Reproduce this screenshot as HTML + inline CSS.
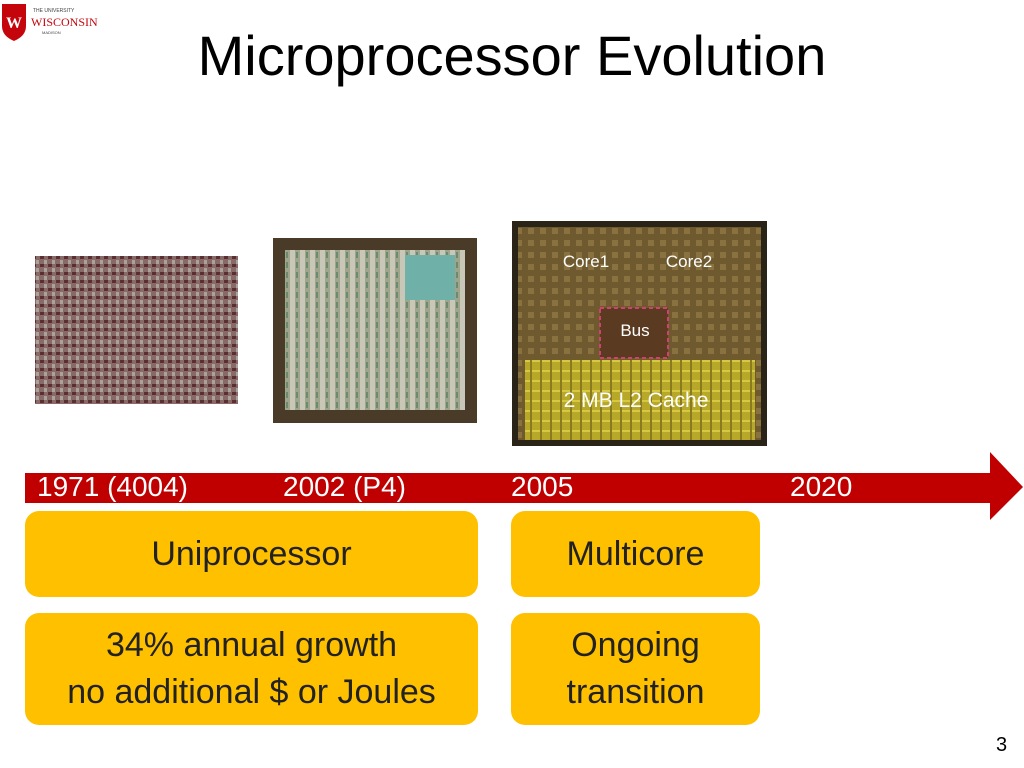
<!DOCTYPE html>
<html><head><meta charset="utf-8"><style>
body{margin:0;width:1024px;height:768px;background:#fff;position:relative;overflow:hidden;font-family:"Liberation Sans",sans-serif}
.a{position:absolute}
.box{position:absolute;background:#FFC000;border-radius:14px;color:#222;font-size:34px;text-align:center;display:flex;align-items:center;justify-content:center;line-height:47px}
.lbl{position:absolute;top:471px;color:#fff;font-size:28px;line-height:32px}
</style></head><body>
<svg class="a" style="left:0;top:0" width="110" height="44">
<path d="M2 4 H26 V26 Q26 36 14 41 Q2 36 2 26 Z" fill="#c5050c"/>
<text x="14" y="28" fill="#fff" font-size="16" font-family="Liberation Serif" text-anchor="middle" font-weight="bold">W</text>
<text x="33" y="12" font-size="5" fill="#444" font-family="Liberation Sans">THE UNIVERSITY</text>
<text x="31" y="26" font-size="12" fill="#c5050c" font-family="Liberation Serif">WISCONSIN</text>
<text x="42" y="34" font-size="4" fill="#444" font-family="Liberation Sans">MADISON</text>
</svg>
<div class="a" style="left:0;width:1024px;top:24px;text-align:center;font-size:56px;line-height:64px;color:#000">Microprocessor Evolution</div>

<svg class="a" style="left:0;top:0" width="1024" height="768">
<defs>
<pattern id="p1" width="8" height="8" patternUnits="userSpaceOnUse"><rect width="8" height="8" fill="#8a6a66"/><rect width="4" height="3" fill="#5a2f33"/><rect x="4" y="4" width="3" height="4" fill="#a9a3a0"/></pattern>
<pattern id="p2" width="10" height="10" patternUnits="userSpaceOnUse"><rect width="10" height="10" fill="#9fa58a"/><rect width="5" height="10" fill="#c9c8b8"/><rect x="6" y="2" width="2" height="6" fill="#6b8a6f"/></pattern>
<pattern id="p3" width="12" height="12" patternUnits="userSpaceOnUse"><rect width="12" height="12" fill="#6e5a2e"/><rect width="6" height="6" fill="#8a7240"/></pattern>
<pattern id="p4" width="10" height="10" patternUnits="userSpaceOnUse"><rect width="10" height="10" fill="#b8a82a"/><rect width="10" height="2" fill="#d6c840"/><rect width="2" height="10" fill="#8a7a20"/></pattern>
</defs>
<rect x="35" y="256" width="203" height="148" fill="url(#p1)"/>
<rect x="273" y="238" width="204" height="185" fill="#4a3a28"/>
<rect x="285" y="250" width="180" height="160" fill="url(#p2)"/>
<rect x="405" y="255" width="50" height="45" fill="#6fb0a8"/>
<rect x="512" y="221" width="255" height="225" fill="#2a2418"/>
<rect x="518" y="227" width="243" height="213" fill="url(#p3)"/>
<rect x="525" y="360" width="230" height="80" fill="url(#p4)"/>
<rect x="600" y="308" width="68" height="50" fill="#5a3a20" stroke="#d04070" stroke-width="2" stroke-dasharray="4 3"/>
<text x="586" y="267" fill="#fff" font-size="17" text-anchor="middle" font-family="Liberation Sans">Core1</text>
<text x="689" y="267" fill="#fff" font-size="17" text-anchor="middle" font-family="Liberation Sans">Core2</text>
<text x="635" y="336" fill="#fff" font-size="17" text-anchor="middle" font-family="Liberation Sans">Bus</text>
<text x="636" y="407" fill="#fff" font-size="21" text-anchor="middle" font-family="Liberation Sans">2 MB L2 Cache</text>
<polygon points="25,473 990,473 990,452 1023,487 990,520 990,503 25,503" fill="#c00000"/>
</svg>
<div class="lbl" style="left:37px">1971 (4004)</div>
<div class="lbl" style="left:283px">2002 (P4)</div>
<div class="lbl" style="left:511px">2005</div>
<div class="lbl" style="left:790px">2020</div>
<div class="box" style="left:25px;top:511px;width:453px;height:86px">Uniprocessor</div>
<div class="box" style="left:511px;top:511px;width:249px;height:86px">Multicore</div>
<div class="box" style="left:25px;top:613px;width:453px;height:112px">34% annual growth<br>no additional $ or Joules</div>
<div class="box" style="left:511px;top:613px;width:249px;height:112px">Ongoing<br>transition</div>
<div class="a" style="left:996px;top:734px;font-size:20px">3</div>
</body></html>
